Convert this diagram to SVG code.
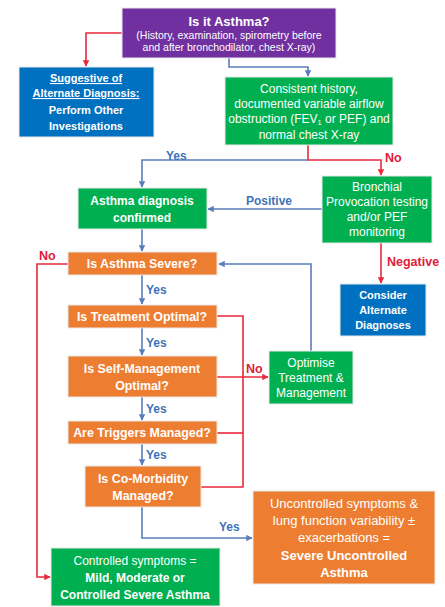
<svg xmlns="http://www.w3.org/2000/svg" width="445" height="607" viewBox="0 0 445 607">
<style>
text{font-family:"Liberation Sans",Arial,sans-serif;fill:#fff;text-anchor:middle}
.b{font-weight:bold}
.t{font-size:11px}
.m{font-size:12px}
.q{font-size:12.4px;font-weight:bold}
.u{font-size:13px}
.s{font-size:10.5px}
.purple{fill:#7030A0}
.green{fill:#00B050}
.blue{fill:#0070C0}
.orange{fill:#ED7D31}
.box{stroke:#e8e8e8;stroke-width:1}
.rl{fill:none;stroke:#E8283C;stroke-width:1.6}
.bl{fill:none;stroke:#5A7DB8;stroke-width:1.6}
.ly{font-size:12px;font-weight:bold;fill:#3F74B8;text-anchor:start}
.ln{font-size:12.5px;font-weight:bold;fill:#E0203A;text-anchor:start}
</style>
<defs>
<marker id="ar" viewBox="0 0 10 10" refX="9" refY="5" markerWidth="4" markerHeight="4" orient="auto"><path d="M0,0L10,5L0,10z" fill="#E8283C"/></marker>
<marker id="ab" viewBox="0 0 10 10" refX="9" refY="5" markerWidth="4" markerHeight="4" orient="auto"><path d="M0,0L10,5L0,10z" fill="#5A7DB8"/></marker>
</defs>
<rect width="445" height="607" fill="#fff"/>
<g id="connectors">
<path class="rl" d="M122,33H86V66" marker-end="url(#ar)"/>
<path class="bl" d="M229,58V67H308V76" marker-end="url(#ab)"/>
<path class="bl" d="M308,160H142V187" marker-end="url(#ab)"/>
<path class="rl" d="M308,145V160H381V175" marker-end="url(#ar)"/>
<path class="bl" d="M322,209H208" marker-end="url(#ab)"/>
<path class="rl" d="M381,243V283" marker-end="url(#ar)"/>
<path class="bl" d="M142,229V251" marker-end="url(#ab)"/>
<path class="bl" d="M311,351V264H219" marker-end="url(#ab)"/>
<path class="rl" d="M68,264H37V577H50" marker-end="url(#ar)"/>
<path class="bl" d="M142,275V304" marker-end="url(#ab)"/>
<path class="bl" d="M142,328V355" marker-end="url(#ab)"/>
<path class="bl" d="M142,397V420" marker-end="url(#ab)"/>
<path class="bl" d="M142,444V465" marker-end="url(#ab)"/>
<path class="rl" d="M217,316H243V487H201"/>
<path class="rl" d="M217,433H243"/>
<path class="rl" d="M217,377H268" marker-end="url(#ar)"/>
<path class="bl" d="M142,507V538H252" marker-end="url(#ab)"/>
<text class="ly" x="166" y="160">Yes</text>
<text class="ln" x="385" y="162">No</text>
<text class="ly" x="246" y="205">Positive</text>
<text class="ln" x="387" y="266">Negative</text>
<text class="ln" x="39" y="260">No</text>
<text class="ly" x="146" y="294">Yes</text>
<text class="ly" x="146" y="347">Yes</text>
<text class="ly" x="146" y="413">Yes</text>
<text class="ly" x="146" y="459">Yes</text>
<text class="ln" x="246" y="373">No</text>
<text class="ly" x="219" y="531">Yes</text>
</g>
<g id="is-it-asthma">
<rect class="purple box" x="122" y="8" width="214" height="50"/>
<text class="b" x="229" y="26" font-size="13">Is it Asthma?</text>
<text class="s" x="229" y="39">(History, examination, spirometry  before</text>
<text class="s" x="229" y="51">and after bronchodilator, chest X-ray)</text>
</g>
<g id="alternate-diagnosis">
<rect class="blue box" x="19" y="67" width="135" height="70"/>
<text class="t b" x="86" y="82" text-decoration="underline">Suggestive of</text>
<text class="t b" x="86" y="97" text-decoration="underline">Alternate Diagnosis:</text>
<text class="t b" x="86" y="114">Perform Other</text>
<text class="t b" x="86" y="130">Investigations</text>
</g>
<g id="consistent-history">
<rect class="green box" x="225" y="77" width="168" height="68"/>
<text class="m" x="309" y="93">Consistent history,</text>
<text class="m" x="309" y="108">documented variable airflow</text>
<text class="m" x="309" y="123">obstruction (FEV<tspan font-size="7.5" dy="2">1</tspan><tspan dy="-2"> or PEF) and</tspan></text>
<text class="m" x="309" y="139">normal chest X-ray</text>
</g>
<g id="asthma-confirmed">
<rect class="green box" x="78" y="188" width="129" height="41"/>
<text class="m b" x="142" y="205">Asthma diagnosis</text>
<text class="m b" x="142" y="222">confirmed</text>
</g>
<g id="bronchial">
<rect class="green box" x="322" y="176" width="110" height="67"/>
<text class="m" x="377" y="191">Bronchial</text>
<text class="m" x="377" y="206">Provocation testing</text>
<text class="m" x="377" y="221">and/or PEF</text>
<text class="m" x="377" y="236">monitoring</text>
</g>
<g id="consider">
<rect class="blue box" x="340" y="284" width="86" height="52"/>
<text class="t b" x="383" y="299">Consider</text>
<text class="t b" x="383" y="314">Alternate</text>
<text class="t b" x="383" y="329">Diagnoses</text>
</g>
<g id="is-severe">
<rect class="orange box" x="68" y="252" width="149" height="23"/>
<text class="q" x="142" y="268">Is Asthma Severe?</text>
</g>
<g id="treatment-optimal">
<rect class="orange box" x="68" y="305" width="149" height="23"/>
<text class="q" x="142" y="321">Is Treatment Optimal?</text>
</g>
<g id="self-management">
<rect class="orange box" x="68" y="356" width="149" height="41"/>
<text class="q" x="142" y="373">Is Self-Management</text>
<text class="q" x="142" y="390">Optimal?</text>
</g>
<g id="triggers">
<rect class="orange box" x="68" y="421" width="149" height="23"/>
<text class="q" x="142" y="437">Are Triggers Managed?</text>
</g>
<g id="co-morbidity">
<rect class="orange box" x="85" y="466" width="116" height="41"/>
<text class="q" x="143" y="483">Is Co-Morbidity</text>
<text class="q" x="143" y="500">Managed?</text>
</g>
<g id="optimise">
<rect class="green box" x="269" y="351" width="84" height="53"/>
<text class="m" x="311" y="367">Optimise</text>
<text class="m" x="311" y="382">Treatment &amp;</text>
<text class="m" x="311" y="397">Management</text>
</g>
<g id="uncontrolled">
<rect class="orange box" x="253" y="491" width="182" height="93"/>
<text class="u" x="344" y="508">Uncontrolled symptoms &amp;</text>
<text class="u" x="344" y="525">lung function variability ±</text>
<text class="u" x="344" y="542">exacerbations =</text>
<text class="u b" x="344" y="560">Severe Uncontrolled</text>
<text class="u b" x="344" y="577">Asthma</text>
</g>
<g id="controlled">
<rect class="green box" x="51" y="548" width="169" height="58"/>
<text class="m" x="135" y="565">Controlled symptoms =</text>
<text class="m b" x="135" y="582">Mild, Moderate or</text>
<text class="m b" x="135" y="599">Controlled Severe Asthma</text>
</g>
</svg>
